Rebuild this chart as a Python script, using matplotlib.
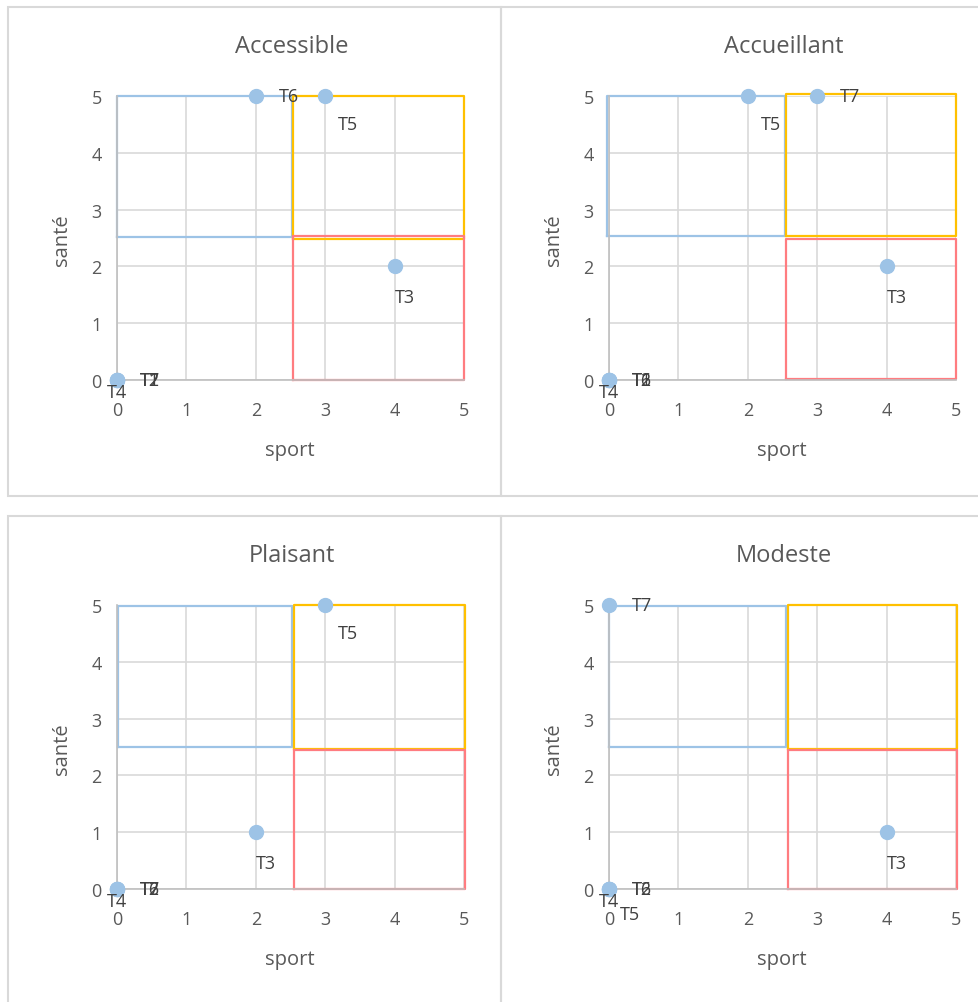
import matplotlib
matplotlib.use("Agg")
import matplotlib.pyplot as plt
from matplotlib.patches import Rectangle

plt.rcParams['font.family'] = ['Open Sans', 'DejaVu Sans']

W, H = 979, 1003

# ---- data ----
titles = ["Accessible", "Accueillant", "Plaisant", "Modeste"]

# points: names, sport (x), santé (y)
acc_names = ["T1", "T2", "T7", "T4", "T6", "T5", "T3"]
acc_x = [0, 0, 0, 0, 2, 3, 4]
acc_y = [0, 0, 0, 0, 5, 5, 2]

accu_names = ["T1", "T2", "T6", "T4", "T5", "T7", "T3"]
accu_x = [0, 0, 0, 0, 2, 3, 4]
accu_y = [0, 0, 0, 0, 5, 5, 2]

pla_names = ["T2", "T6", "T7", "T4", "T5", "T3"]
pla_x = [0, 0, 0, 0, 3, 2]
pla_y = [0, 0, 0, 0, 5, 1]

mod_names = ["T2", "T6", "T4", "T5", "T7", "T3"]
mod_x = [0, 0, 0, 0, 0, 4]
mod_y = [0, 0, 0, 0, 5, 1]

# label placement style per point
acc_pos = ["r", "r", "r", "bl", "r", "br", "b"]
accu_pos = ["r", "r", "r", "bl", "br", "r", "b"]
pla_pos = ["r", "r", "r", "bl", "br", "b"]
mod_pos = ["r", "r", "bl", "bb", "r", "b"]

# quadrant rectangles per panel: (x0, x1, y0, y1)
acc_blue = (0, 2.52, 2.52, 5.0)
acc_yellow = (2.54, 5.0, 2.48, 5.0)
acc_red = (2.54, 5.0, 0.0, 2.54)

accu_blue = (-0.03, 2.53, 2.54, 5.0)
accu_yellow = (2.55, 5.0, 2.53, 5.04)
accu_red = (2.55, 5.0, 0.02, 2.49)

pla_blue = (0.01, 2.52, 2.5, 4.98)
pla_yellow = (2.55, 5.02, 2.47, 5.0)
pla_red = (2.55, 5.02, 0.0, 2.45)

mod_blue = (0.0, 2.55, 2.5, 4.98)
mod_yellow = (2.58, 5.02, 2.47, 5.0)
mod_red = (2.58, 5.02, 0.0, 2.45)

ticks = [0, 1, 2, 3, 4, 5]

panels = [
    (titles[0], acc_names, acc_x, acc_y, acc_pos, acc_blue, acc_yellow, acc_red, 117, 381),
    (titles[1], accu_names, accu_x, accu_y, accu_pos, accu_blue, accu_yellow, accu_red, 609, 381),
    (titles[2], pla_names, pla_x, pla_y, pla_pos, pla_blue, pla_yellow, pla_red, 117, 890),
    (titles[3], mod_names, mod_x, mod_y, mod_pos, mod_blue, mod_yellow, mod_red, 609, 890),
]

BLUE = "#9dc3e6"
YELLOW = "#ffc000"
RED = "#ff7c80"
TXT = "#595959"
GRID = "#d9d9d9"

fig = plt.figure(figsize=(W / 100, H / 100), dpi=100)

# panel borders
for (x0, y0, x1, y1) in [(8, 8, 501, 497), (501, 8, 985, 497), (8, 517, 501, 1010), (501, 517, 985, 1010)]:
    fig.add_artist(Rectangle((x0 / W, 1 - y1 / H), (x1 - x0) / W, (y1 - y0) / H,
                             transform=fig.transFigure, fill=False, edgecolor="#d9d9d9", lw=1.5))

# offsets in pixels (dx, dy of text anchor), ha
offsets = {"r": (23, 0, "left"),
           "br": (13, -28, "left"),
           "b": (10, -31, "center"),
           "bl": (-10, -12, "left"),
           "bb": (11, -25, "left")}

for (title, names, xs, ys, pos, blue, yellow, red, px0, py0) in panels:
    aw, ah = 347, 284
    ax = fig.add_axes([px0 / W, 1 - py0 / H, aw / W, ah / H])
    ax.set_xlim(0, 5)
    ax.set_ylim(0, 5)
    ax.set_xticks(ticks)
    ax.set_yticks(ticks)
    ax.grid(True, color=GRID, lw=1.2)
    ax.set_axisbelow(True)
    for s in ["top", "right"]:
        ax.spines[s].set_visible(False)
    for s in ["left", "bottom"]:
        ax.spines[s].set_color("#bfbfbf")
        ax.spines[s].set_linewidth(1.2)
    ax.tick_params(length=0, labelsize=13, labelcolor=TXT)
    ax.tick_params(axis="x", pad=15)
    ax.tick_params(axis="y", pad=11)

    cx = (px0 + aw / 2 + 1)
    fig.text(cx / W, 1 - (py0 - 334) / H, title, fontsize=17, color=TXT,
             ha="center", va="center")
    fig.text((px0 + 173) / W, 1 - (py0 + 70) / H, "sport", fontsize=14.5, color=TXT,
             ha="center", va="center")
    fig.text((px0 - 55) / W, 1 - (py0 - 141) / H, "santé", fontsize=14.5, color=TXT,
             ha="center", va="center", rotation=90)

    for rect, col in [(blue, BLUE), (yellow, YELLOW), (red, RED)]:
        x0, x1, y0, y1 = rect
        ax.plot([x0, x1, x1, x0, x0], [y0, y0, y1, y1, y0], color=col, lw=1.6,
                clip_on=False, zorder=2)

    ax.plot(xs, ys, "o", color=BLUE, ms=10, clip_on=False, zorder=4)
    for n, x, y, p in zip(names, xs, ys, pos):
        dx, dy, ha = offsets[p]
        ax.annotate(n, (x, y), xytext=(dx, dy), textcoords="offset pixels",
                    ha=ha, va="center", fontsize=13, color="#404040", zorder=5,
                    annotation_clip=False)

fig.savefig("out.png", dpi=100)
